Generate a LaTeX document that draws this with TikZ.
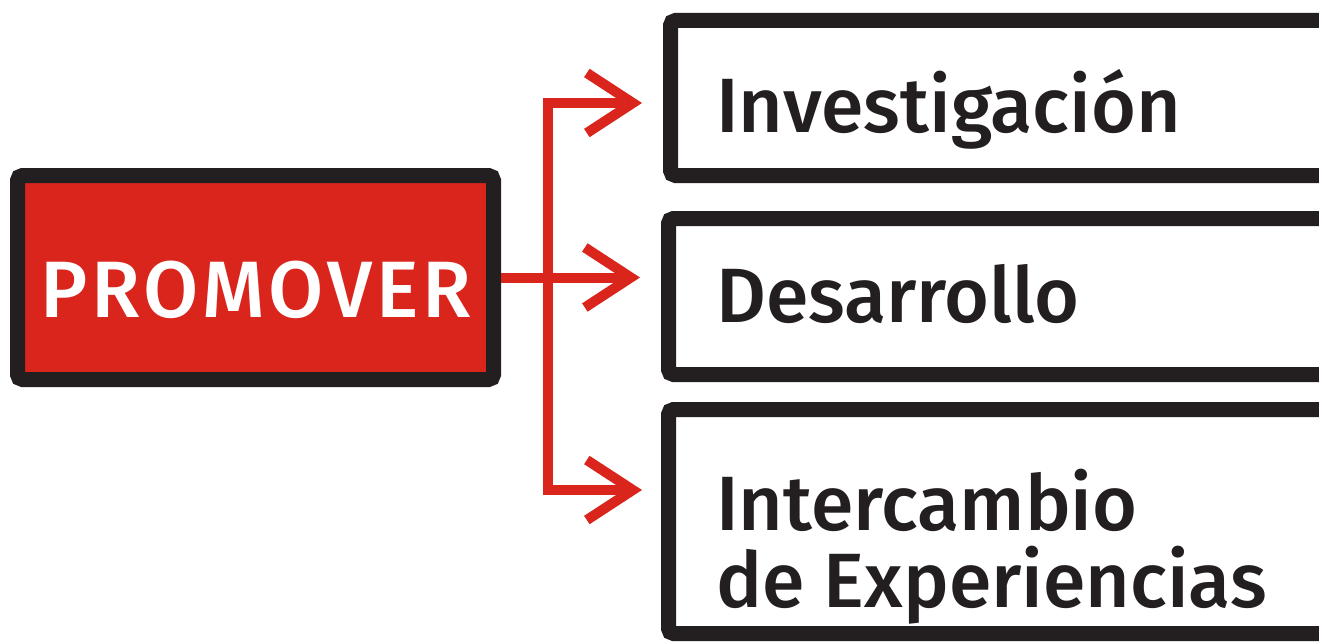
\documentclass[tikz,border=0pt]{standalone}
\usepackage{fontspec}
\setmainfont{Fira Sans}[UprightFont={* Medium}]
\usetikzlibrary{arrows.meta,calc}
\definecolor{promred}{RGB}{218,37,29}
\definecolor{boxblack}{RGB}{35,31,32}
\begin{document}
\begin{tikzpicture}[x=1pt,y=-1pt,
  framebox/.style={draw=boxblack,line width=15pt,rounded corners=5pt,inner sep=0pt},
  boxtext/.style={anchor=base west,inner sep=0pt,font=\fontsize{77}{77}\selectfont,text=boxblack,align=left},
  arrline/.style={draw=promred,line width=10pt,line join=miter,-{Straight Barb[length=46pt,width=60pt]}}]
\useasboundingbox (0,0) rectangle (1319,642);
\fill[white] (0,0) rectangle (1319,642);
\clip (0,0) rectangle (1319,642);
% left box
\node[framebox,fill=promred,minimum width=476pt,minimum height=204pt] (prom) at (255.5,277.5) {};
\node[anchor=base,inner sep=0pt,text=white,font=\fontsize{80}{80}\selectfont\addfontfeature{LetterSpace=5}] (promt) at (256,317) {PROMOVER};
% right boxes
\node[framebox,fill=white,minimum width=700pt,minimum height=155pt] (inv) at (1020.5,98) {};
\node[boxtext] (invt) at (716,132) {Investigación};
\node[framebox,fill=white,minimum width=700pt,minimum height=156pt] (des) at (1018.5,296.5) {};
\node[boxtext] (dest) at (716,322) {Desarrollo};
\node[framebox,fill=white,minimum width=700pt,minimum height=224pt] (int) at (1018.5,521.5) {};
\node[boxtext] (intt) at (716,607) {Intercambio\\de Experiencias};
% connectors
\coordinate (split) at (548,277.5);
\coordinate (t1) at (642,103);
\coordinate (t2) at (640,277.5);
\coordinate (t3) at (642,490);
\draw[arrline] (prom.east) -- (t2);
\draw[arrline] (split) |- (t1);
\draw[arrline] (split) |- (t3);
\end{tikzpicture}
\end{document}
